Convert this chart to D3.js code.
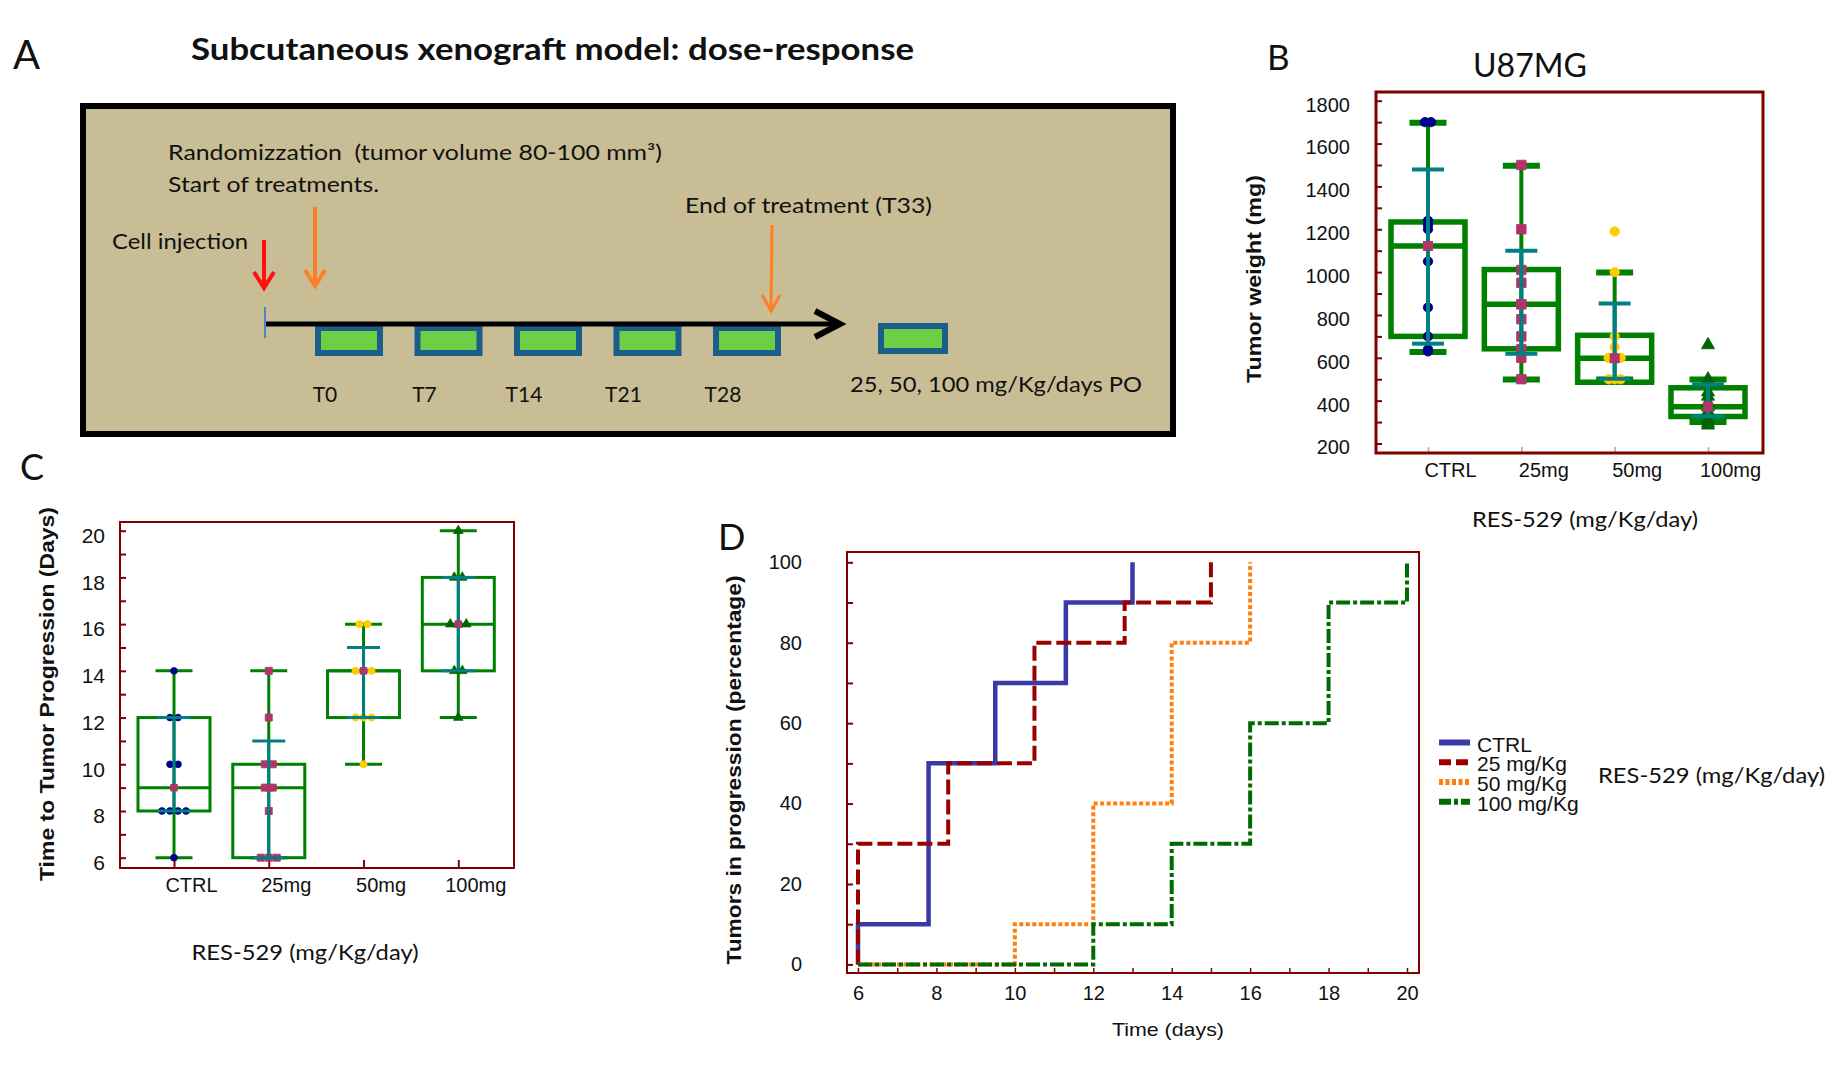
<!DOCTYPE html>
<html>
<head>
<meta charset="utf-8">
<script src="https://cdn.jsdelivr.net/npm/d3@7"></script>
<style>
  body { margin: 0; background: #fff; }
  svg { display: block; }
</style>
</head>
<body>
<svg id="fig" width="1833" height="1069"></svg>
<script>
// ---- data ----
const categories = ['CTRL', '25mg', '50mg', '100mg'];
const timelineLabels = ['T0', 'T7', 'T14', 'T21', 'T28'];

// B: tumor weight (mg)
const weightQ1 = [700, 642, 486, 326];
const weightMedian = [1122, 850, 598, 372];
const weightQ3 = [1234, 1012, 705, 460];
const weightWhiskerLow = [627, 499, 499, 300];
const weightWhiskerHigh = [1697, 1496, 998, 499];
const weightMeanLow = [666, 619, 502, 327];
const weightMeanHigh = [1479, 1100, 853, 476];
const weightPoints = [
    [1700, 1700, 1240, 1220, 1200, 1050, 835, 700, 640, 630],
    [1500, 1200, 1010, 950, 850, 780, 700, 640, 600, 500],
    [1190, 1000, 700, 650, 600, 600, 600, 500, 500, 500],
    [660, 500, 440, 420, 390, 370, 350, 310, 295, 285]
];
const weightTicks = d3.range(200, 1801, 100);

// C: time to tumor progression (days)
const ttpQ1 = [8, 6, 12, 14];
const ttpMedian = [9, 9, 14, 16];
const ttpQ3 = [12, 10, 14, 18];
const ttpWhiskerLow = [6, 6, 10, 12];
const ttpWhiskerHigh = [14, 14, 16, 20];
const ttpMeanLow = [8, 6, 12, 14];
const ttpMeanHigh = [12, 11, 15, 18];
const ttpPoints = [
    [14, 12, 12, 10, 10, 8, 8, 8, 8, 6],
    [14, 12, 10, 10, 9, 9, 8, 6, 6, 6],
    [16, 16, 14, 14, 14, 12, 12, 12, 10],
    [20, 18, 18, 16, 16, 16, 14, 14, 12]
];
const ttpTicks = d3.range(6, 21, 1);

// D: tumors in progression (%) over time (days)
const seriesNames = ['CTRL', '25 mg/Kg', '50 mg/Kg', '100 mg/Kg'];
const ctrlDays = [6, 6, 7.8, 9.5, 11.3, 13];
const ctrlPct = [0, 10, 50, 70, 90, 100];
const mg25Days = [6, 6, 8.3, 10.5, 12.8, 15];
const mg25Pct = [0, 30, 50, 80, 90, 100];
const mg50Days = [6, 10, 12, 14, 16];
const mg50Pct = [0, 10, 40, 80, 100];
const mg100Days = [6, 12, 14, 16, 18, 20];
const mg100Pct = [0, 10, 30, 60, 90, 100];
const dayTicks = d3.range(6, 21, 1);
const pctTicks = d3.range(0, 101, 10);

// ---- styles ----
const sans = "'Liberation Sans', Arial, sans-serif";
const cal = "Lato, 'Open Sans', sans-serif";
const green = '#008000';
const teal = '#008080';
const frameColor = '#7f0000';
const medianColor = '#b2336a';
const groupColors = ['#00008b', '#b2336a', '#ffcc00', '#006400'];
const groupShapes = [d3.symbolCircle, d3.symbolSquare, d3.symbolCircle, d3.symbolTriangle];
const seriesColors = ['#3a3aa6', '#9b0000', '#ff7f0e', '#006b00'];
const seriesDash = [null, '15,5', '4,2.5', '14,3,4,3'];

const svg = d3.select('#fig');
svg.append('rect').attr('width', 1833).attr('height', 1069).attr('fill', '#fff');

function label(x, y, txt, size, opts = {}) {
    const t = svg.append('text')
        .attr('x', x).attr('y', y)
        .attr('font-family', opts.family || cal)
        .attr('font-size', size)
        .attr('font-weight', opts.weight || 'normal')
        .attr('text-anchor', opts.anchor || 'start')
        .attr('fill', opts.fill || '#111')
        .style('white-space', 'pre')
        .text(txt);
    if (opts.len) t.attr('textLength', opts.len).attr('lengthAdjust', 'spacingAndGlyphs');
    if (opts.transform) t.attr('transform', opts.transform);
    return t;
}

// ================= Panel A =================
label(13, 69, 'A', 40);
label(191, 60, 'Subcutaneous xenograft model: dose-response', 30, { weight: 'bold', len: 723 });

svg.append('rect')
    .attr('x', 83).attr('y', 106).attr('width', 1090).attr('height', 328)
    .attr('fill', '#c8bd94').attr('stroke', '#000').attr('stroke-width', 6);

label(168, 160, 'Randomizzation  (tumor volume 80-100 mm\u00b3)', 21, { len: 494 });
label(168, 192, 'Start of treatments.', 21, { len: 211 });
label(685, 213, 'End of treatment (T33)', 21, { len: 247 });
label(112, 249, 'Cell injection', 21, { len: 136 });
label(850, 392, '25, 50, 100 mg/Kg/days PO', 21, { len: 292 });

function arrowDown(x0, y0, x1, y1, color, w, half) {
    svg.append('line')
        .attr('x1', x0).attr('y1', y0).attr('x2', x1).attr('y2', y1 - 3)
        .attr('stroke', color).attr('stroke-width', w);
    svg.append('path')
        .attr('d', `M${x1 - half},${y1 - 18} L${x1},${y1 - 2} L${x1 + half},${y1 - 18}`)
        .attr('fill', 'none').attr('stroke', color).attr('stroke-width', w)
        .attr('stroke-linejoin', 'miter');
}
arrowDown(264, 240, 264, 290, '#ff1010', 4, 10);
arrowDown(315, 207, 315, 288, '#ff7f27', 4, 10);
arrowDown(772, 225, 771, 313, '#ff7f27', 3, 9);

const xT = d3.scalePoint().domain(timelineLabels).range([349, 747]);

svg.append('g').selectAll('rect')
    .data(timelineLabels)
    .join('rect')
    .attr('x', d => xT(d) - 31).attr('y', 328)
    .attr('width', 62).attr('height', 25)
    .attr('fill', '#6dcf45').attr('stroke', '#1b5e8c').attr('stroke-width', 6);

svg.append('rect')
    .attr('x', 881).attr('y', 326).attr('width', 64).attr('height', 25)
    .attr('fill', '#6dcf45').attr('stroke', '#1b5e8c').attr('stroke-width', 6);

svg.append('line')
    .attr('x1', 266).attr('y1', 324).attr('x2', 838).attr('y2', 324)
    .attr('stroke', '#000').attr('stroke-width', 5);
svg.append('path')
    .attr('d', 'M815,311 L840,324 L815,337')
    .attr('fill', 'none').attr('stroke', '#000').attr('stroke-width', 6);
svg.append('line')
    .attr('x1', 265).attr('y1', 307).attr('x2', 265).attr('y2', 338)
    .attr('stroke', '#4a86c0').attr('stroke-width', 2);

svg.append('g').selectAll('text')
    .data(timelineLabels)
    .join('text')
    .attr('x', d => xT(d) - 24).attr('y', 402)
    .attr('text-anchor', 'middle')
    .attr('font-family', cal).attr('font-size', 21).attr('fill', '#111')
    .text(d => d);

// ================= box panels =================
function jitter(values, step) {
    const counts = d3.rollup(values, v => v.length, d => d);
    const used = new Map();
    return values.map(v => {
        const k = counts.get(v);
        const i = used.get(v) || 0;
        used.set(v, i + 1);
        return (i - (k - 1) / 2) * step;
    });
}

function boxPanel(o) {
    const g = svg.append('g');
    categories.forEach((c, i) => {
        const cx = o.x(c);
        // whisker
        g.append('line')
            .attr('x1', cx).attr('x2', cx)
            .attr('y1', o.y(o.wLow[i])).attr('y2', o.y(o.wHigh[i]))
            .attr('stroke', green).attr('stroke-width', o.whiskerW);
        // box
        g.append('rect')
            .attr('x', cx - o.boxHalf).attr('y', o.y(o.q3[i]))
            .attr('width', 2 * o.boxHalf).attr('height', o.y(o.q1[i]) - o.y(o.q3[i]))
            .attr('fill', 'none').attr('stroke', green).attr('stroke-width', o.boxW);
        g.append('line')
            .attr('x1', cx - o.boxHalf).attr('x2', cx + o.boxHalf)
            .attr('y1', o.y(o.med[i])).attr('y2', o.y(o.med[i]))
            .attr('stroke', green).attr('stroke-width', o.boxW);
        // caps
        [o.wLow[i], o.wHigh[i]].forEach(v => {
            g.append('line')
                .attr('x1', cx - o.capHalf).attr('x2', cx + o.capHalf)
                .attr('y1', o.y(v)).attr('y2', o.y(v))
                .attr('stroke', green).attr('stroke-width', o.capW);
        });
        // points
        const offs = jitter(o.points[i], o.jitterStep);
        g.append('g').selectAll('path')
            .data(o.points[i])
            .join('path')
            .attr('transform', (d, j) => `translate(${cx + offs[j]},${o.y(d)})`)
            .attr('d', d3.symbol().type(groupShapes[i]).size(o.symSize[i]))
            .attr('fill', groupColors[i])
            .attr('stroke', groupColors[i]).attr('stroke-width', 0.8);
        // mean +/- sd
        g.append('line')
            .attr('x1', cx).attr('x2', cx)
            .attr('y1', o.y(o.mLow[i])).attr('y2', o.y(o.mHigh[i]))
            .attr('stroke', teal).attr('stroke-width', o.meanW);
        [o.mLow[i], o.mHigh[i]].forEach(v => {
            g.append('line')
                .attr('x1', cx - o.mCapHalf).attr('x2', cx + o.mCapHalf)
                .attr('y1', o.y(v)).attr('y2', o.y(v))
                .attr('stroke', teal).attr('stroke-width', o.meanCapW);
        });
        // median marker
        g.append('rect')
            .attr('x', cx - o.sq / 2).attr('y', o.y(o.med[i]) - o.sq / 2)
            .attr('width', o.sq).attr('height', o.sq)
            .attr('fill', medianColor);
    });
}

// ================= Panel B =================
label(1267, 70, 'B', 35);
label(1473, 77, 'U87MG', 32, { len: 114 });

const xB = d3.scalePoint().domain(categories).range([1428, 1708]);
const yB = d3.scaleLinear().domain([200, 1800]).range([443.5, 100.7]);

const axB = svg.append('g')
    .attr('transform', 'translate(1376,0)')
    .call(d3.axisLeft(yB).tickValues(weightTicks).tickSize(-6).tickPadding(26)
        .tickFormat(d => d % 200 === 0 ? d : ''));
axB.select('.domain').remove();
axB.selectAll('line').attr('stroke', frameColor).attr('stroke-width', 2);
axB.selectAll('text').attr('font-family', sans).attr('font-size', 20)
    .attr('fill', '#111').attr('dy', '0.52em');

const axBx = svg.append('g')
    .attr('transform', 'translate(0,453)')
    .call(d3.axisBottom(xB).tickSize(-6).tickPadding(10));
axBx.select('.domain').remove();
axBx.selectAll('line').attr('stroke', '#c99').attr('stroke-width', 1.5);
axBx.selectAll('text').attr('font-family', sans).attr('font-size', 20)
    .attr('fill', '#111').attr('dx', 22);

boxPanel({
    x: xB, y: yB,
    q1: weightQ1, med: weightMedian, q3: weightQ3,
    wLow: weightWhiskerLow, wHigh: weightWhiskerHigh,
    mLow: weightMeanLow, mHigh: weightMeanHigh,
    points: weightPoints,
    boxHalf: 37, boxW: 5.5, whiskerW: 4, capHalf: 18.5, capW: 6,
    meanW: 4, mCapHalf: 16, meanCapW: 4, sq: 10,
    symSize: [70, 90, 70, 75], jitterStep: 6
});

svg.append('rect')
    .attr('x', 1376).attr('y', 92).attr('width', 387).attr('height', 361)
    .attr('fill', 'none').attr('stroke', frameColor).attr('stroke-width', 3);

label(1261, 279, 'Tumor weight (mg)', 20, {
    family: sans, weight: 'bold', anchor: 'middle', len: 208,
    transform: 'rotate(-90,1261,279)'
});
label(1585, 527, 'RES-529 (mg/Kg/day)', 22, { anchor: 'middle', len: 226 });

// ================= Panel C =================
label(20, 480, 'C', 36);

const xC = d3.scalePoint().domain(categories).range([174, 458.3]);
const yC = d3.scaleLinear().domain([6, 20]).range([857.7, 530.7]);

const axC = svg.append('g')
    .attr('transform', 'translate(120,0)')
    .call(d3.axisLeft(yC).tickValues(ttpTicks).tickSize(-6).tickPadding(15)
        .tickFormat(d => d % 2 === 0 ? d : ''));
axC.select('.domain').remove();
axC.selectAll('line').attr('stroke', frameColor).attr('stroke-width', 2);
axC.selectAll('text').attr('font-family', sans).attr('font-size', 21)
    .attr('fill', '#111').attr('dy', '0.56em');

const axCx = svg.append('g')
    .attr('transform', 'translate(0,868)')
    .call(d3.axisBottom(xC).tickSize(-8).tickPadding(10));
axCx.select('.domain').remove();
axCx.selectAll('line').attr('stroke', frameColor).attr('stroke-width', 2);
axCx.selectAll('text').attr('font-family', sans).attr('font-size', 20)
    .attr('fill', '#111').attr('dx', 17);

boxPanel({
    x: xC, y: yC,
    q1: ttpQ1, med: ttpMedian, q3: ttpQ3,
    wLow: ttpWhiskerLow, wHigh: ttpWhiskerHigh,
    mLow: ttpMeanLow, mHigh: ttpMeanHigh,
    points: ttpPoints,
    boxHalf: 36, boxW: 3, whiskerW: 3, capHalf: 18.5, capW: 3,
    meanW: 3, mCapHalf: 16.5, meanCapW: 3, sq: 7.5,
    symSize: [36, 50, 40, 40], jitterStep: 8
});

svg.append('rect')
    .attr('x', 120).attr('y', 522).attr('width', 394).attr('height', 346)
    .attr('fill', 'none').attr('stroke', frameColor).attr('stroke-width', 2);

label(54, 694, 'Time to Tumor Progression (Days)', 21, {
    family: sans, weight: 'bold', anchor: 'middle', len: 374,
    transform: 'rotate(-90,54,694)'
});
label(305, 960, 'RES-529 (mg/Kg/day)', 22, { anchor: 'middle', len: 227 });

// ================= Panel D =================
label(718, 550, 'D', 36);

const xD = d3.scaleLinear().domain([6, 20]).range([858, 1407]);
const yD = d3.scaleLinear().domain([0, 100]).range([964.4, 562.3]);

const axD = svg.append('g')
    .attr('transform', 'translate(847,0)')
    .call(d3.axisLeft(yD).tickValues(pctTicks).tickSize(-6).tickPadding(45)
        .tickFormat(d => d % 20 === 0 ? d : ''));
axD.select('.domain').remove();
axD.selectAll('line').attr('stroke', frameColor).attr('stroke-width', 2);
axD.selectAll('text').attr('font-family', sans).attr('font-size', 20).attr('fill', '#111');

const axDx = svg.append('g')
    .attr('transform', 'translate(0,973)')
    .call(d3.axisBottom(xD).tickValues(dayTicks).tickSize(-5).tickPadding(13)
        .tickFormat(d => d % 2 === 0 ? d : ''));
axDx.select('.domain').remove();
axDx.selectAll('line').attr('stroke', frameColor).attr('stroke-width', 1.5);
axDx.selectAll('text').attr('font-family', sans).attr('font-size', 20).attr('fill', '#111');

const curves = [
    d3.zip(ctrlDays, ctrlPct),
    d3.zip(mg25Days, mg25Pct),
    d3.zip(mg50Days, mg50Pct),
    d3.zip(mg100Days, mg100Pct)
];
const stepLine = d3.line()
    .x(d => xD(d[0]))
    .y(d => yD(d[1]))
    .curve(d3.curveStepAfter);

svg.append('g').selectAll('path')
    .data(curves)
    .join('path')
    .attr('d', stepLine)
    .attr('fill', 'none')
    .attr('stroke', (d, i) => seriesColors[i])
    .attr('stroke-width', (d, i) => i === 0 ? 4.5 : 4)
    .attr('stroke-dasharray', (d, i) => seriesDash[i]);

svg.append('rect')
    .attr('x', 847).attr('y', 552).attr('width', 572).attr('height', 421)
    .attr('fill', 'none').attr('stroke', frameColor).attr('stroke-width', 2);

label(741, 770, 'Tumors in progression (percentage)', 20, {
    family: sans, weight: 'bold', anchor: 'middle', len: 389,
    transform: 'rotate(-90,741,770)'
});
label(1168, 1036, 'Time (days)', 19, { family: sans, anchor: 'middle', len: 112 });

// legend
const legendY = d3.scalePoint().domain(seriesNames).range([742.5, 801.7]);
const leg = svg.append('g');
leg.selectAll('line')
    .data(seriesNames)
    .join('line')
    .attr('x1', 1439).attr('x2', 1470)
    .attr('y1', d => legendY(d)).attr('y2', d => legendY(d))
    .attr('stroke', (d, i) => seriesColors[i])
    .attr('stroke-width', 6)
    .attr('stroke-dasharray', (d, i) => i === 0 ? null : ['12,5', '4,2.5', '12,3,4,3'][i - 1]);
leg.selectAll('text')
    .data(seriesNames)
    .join('text')
    .attr('x', 1477).attr('y', d => legendY(d) + 9)
    .attr('font-family', sans).attr('font-size', 21).attr('fill', '#111')
    .text(d => d);

label(1598, 783, 'RES-529 (mg/Kg/day)', 22, { len: 227 });
</script>
</body>
</html>
